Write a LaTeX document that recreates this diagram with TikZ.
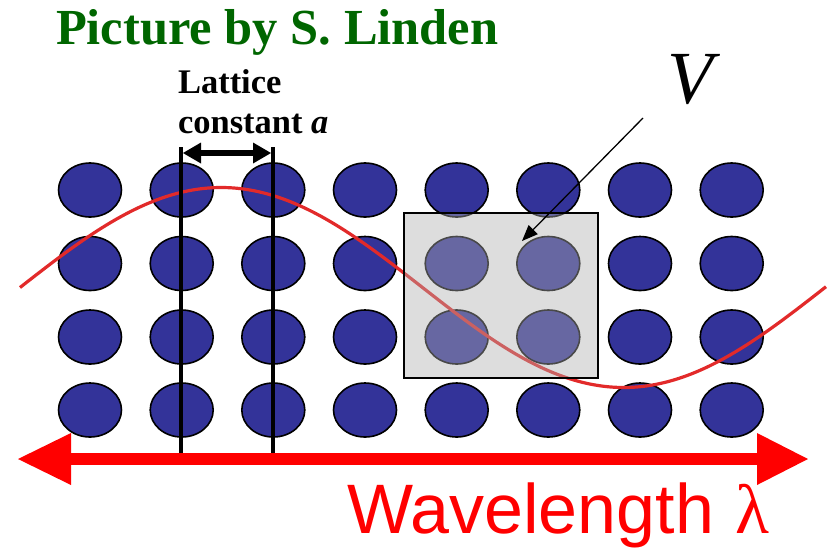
\documentclass[tikz,border=0pt]{standalone}
\usepackage{fontspec}
\setmainfont{Liberation Serif}
\newfontfamily\arialfont{Liberation Sans}
\usetikzlibrary{shapes.geometric,arrows.meta}
\definecolor{dotblue}{RGB}{51,51,153}
\definecolor{titlegreen}{RGB}{0,102,0}
\definecolor{wavered}{RGB}{226,42,42}
\definecolor{boxgray}{RGB}{175,175,175}
\tikzset{
  dot/.style={ellipse,draw=black,line width=1.6pt,fill=dotblue,minimum width=63pt,minimum height=54pt,inner sep=0pt},
  wave/.style={wavered,line width=3.2pt},
  vbox/.style={rectangle,draw=black,line width=1.6pt,fill=boxgray,fill opacity=0.42,minimum width=194pt,minimum height=165pt,inner sep=0pt},
  latline/.style={black,line width=4pt},
  latarrow/.style={black,line width=6.7pt,{Triangle[length=18pt,width=21pt,line width=0pt]}-{Triangle[length=18pt,width=21pt,line width=0pt]}},
  varrow/.style={black,line width=1.3pt,-{Triangle[length=16pt,width=13pt,line width=0pt]}},
  bigarrow/.style={red,line width=12pt,{Triangle[length=53pt,width=52pt,line width=0pt]}-{Triangle[length=51pt,width=52pt,line width=0pt]}},
  lbl/.style={anchor=base west,inner sep=0pt,outer sep=0pt}
}
\begin{document}
\begin{tikzpicture}[x=1pt,y=-1pt]
\useasboundingbox (0,0) rectangle (835,550);
% lattice of particles
\foreach \j/\yy in {1/190,2/263.5,3/337,4/410}{
  \foreach \i/\xx in {1/90,2/181.7,3/273.3,4/365,5/456.7,6/548.3,7/640,8/731.7}{
    \node[dot] (c-\j-\i) at (\xx,\yy) {};
  }
}
% wave
\draw[wave] plot[domain=20:826,samples=160,smooth] (\x,{287.5-100*sin(0.447205*(\x-20))});
% volume box
\node[vbox] (vbox) at (501,295.5) {};
% lattice constant lines
\coordinate (l1t) at (181,147);
\coordinate (l1b) at (181,458);
\coordinate (l2t) at (273,147);
\coordinate (l2b) at (273,458);
\draw[latline] (l1t) -- (l1b);
\draw[latline] (l2t) -- (l2b);
\coordinate (a1) at (183,153);
\coordinate (a2) at (271,153);
\draw[latarrow] (a1) -- (a2);
% wavelength arrow
\coordinate (wl) at (18,459);
\coordinate (wr) at (808,459);
\draw[bigarrow] (wl) -- (wr);
% V arrow
\coordinate (vs) at (643,118);
\coordinate (ve) at (522,241);
\draw[varrow] (vs) -- (ve);
% texts
\node[lbl,text=titlegreen,font=\fontsize{50.5}{56}\selectfont\bfseries] (title) at (56,44) {Picture by S. Linden};
\node[lbl,font=\fontsize{34.5}{40}\selectfont\bfseries] (lat1) at (178,93) {Lattice};
\node[lbl,font=\fontsize{34.5}{40}\selectfont\bfseries] (lat2) at (178,133) {constant \textit{a}};
\node[lbl,font=\fontsize{75}{80}\selectfont\itshape] (vlab) at (667,103) {V};
\node[lbl,text=red,font=\fontsize{70}{80}\selectfont\arialfont] (wlab) at (347,533) {Wavelength\hspace{0.3em}{\rmfamily λ}};
\end{tikzpicture}
\end{document}
